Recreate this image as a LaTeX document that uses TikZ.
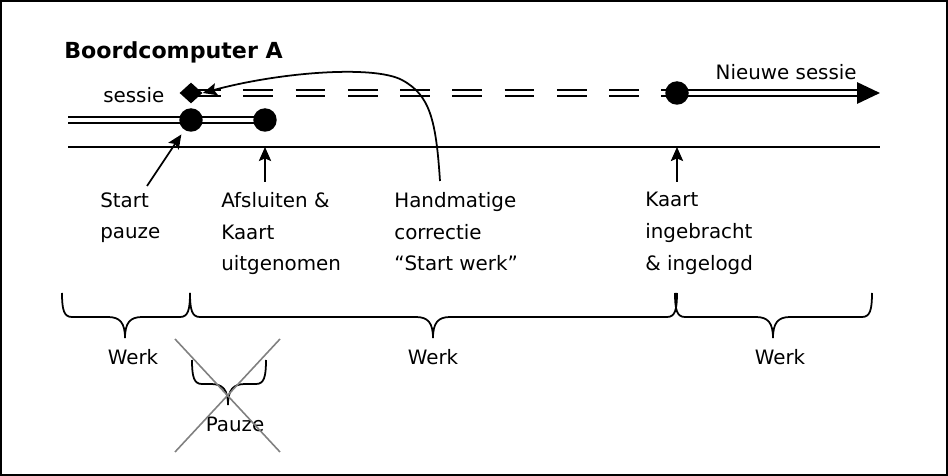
\documentclass[tikz,border=0pt]{standalone}
\usepackage{fontspec}
\setmainfont{DejaVu Sans}
\usetikzlibrary{arrows.meta,shapes.geometric,backgrounds}

\newcommand{\accolade}[4]{%
  \draw[klamp] (#1,#4) .. controls (#1,#4+17) and (#1+2,#4+24) .. (#1+10,#4+24)
    -- (#2-17,#4+24) .. controls (#2-5,#4+24) and (#2,#4+30) .. (#2,#4+45)
    .. controls (#2,#4+30) and (#2+5,#4+24) .. (#2+17,#4+24)
    -- (#3-10,#4+24) .. controls (#3-2,#4+24) and (#3,#4+17) .. (#3,#4);}

\begin{document}
\begin{tikzpicture}[
  x=0.02cm, y=-0.02cm,
  font=\fontsize{11.3}{18}\selectfont,
  >={Stealth[length=8pt, width=7pt, inset=1.5pt]},
  dot/.style={circle, fill, inner sep=0pt, minimum size=0.47cm},
  ruit/.style={diamond, fill, inner sep=0pt, minimum width=0.46cm, minimum height=0.42cm},
  lbl/.style={anchor=north west, inner sep=0pt, align=left},
  sessie/.style={double, line width=1.35pt, double distance=1.9pt},
  pijl/.style={->, line width=1pt},
  klamp/.style={line width=1pt},
  kruis/.style={draw=gray, line width=0.9pt}
]
  \useasboundingbox (0,0) rectangle (948,476);
  \draw[line width=1pt] (1,1) rectangle (947,475);

  \node[anchor=base west, inner sep=0pt, font=\fontsize{12.6}{14}\selectfont\bfseries] (titel) at (64,59) {Boordcomputer A};
  \node[anchor=base west, inner sep=0pt] (sessielbl) at (103,103) {sessie};
  \node[anchor=base east, inner sep=0pt] (nieuwlbl) at (857,80) {Nieuwe sessie};

  \coordinate (sstart) at (68,120);
  \coordinate (send) at (880,93);
  \coordinate (as) at (68,147);
  \coordinate (ae) at (880,147);

  \node[dot] (pauze) at (191,120) {};
  \node[dot] (afsl) at (265,120) {};
  \node[ruit] (corr) at (191,93) {};
  \node[dot] (nieuw) at (677,93) {};

  \begin{scope}[on background layer]
    \draw[sessie] (sstart) -- (pauze.center) -- (afsl.center);
    \draw[sessie, dash pattern=on 17pt off 12.75pt] (corr.center) -- (nieuw.center);
    \draw[sessie, -{Triangle[length=13pt, width=12pt]}] (nieuw.center) -- (send);
    \draw[line width=1.1pt] (as) -- (ae);
  \end{scope}

  \node[lbl] (startlbl) at (100,192) {Start\\pauze};
  \node[lbl] (afsllbl) at (221,192) {Afsluiten \&\\Kaart\\uitgenomen};
  \node[lbl] (corrlbl) at (394,192) {Handmatige\\correctie\\“Start werk”};
  \node[lbl] (kaartlbl) at (645,192) {Kaart\\ingebracht\\\& ingelogd};

  \coordinate (startvoet) at (147,186);
  \coordinate (afslvoet) at (265,182);
  \coordinate (kaartvoet) at (677,182);
  \coordinate (corrvoet) at (440,181);
  \coordinate (corrbocht) at (402,80);

  \draw[pijl, shorten >=3pt] (startvoet) -- (pauze);
  \draw[pijl] (afslvoet) -- (afslvoet |- ae);
  \draw[pijl] (kaartvoet) -- (kaartvoet |- ae);
  \draw[pijl] (corrvoet) .. controls (436,120) and (430,95) .. (corrbocht)
    .. controls (374,65) and (280,72) .. (corr.east);

  \accolade{62}{125}{190}{293}
  \accolade{190}{433}{677}{293}
  \accolade{675}{773}{872}{293}
  \node[anchor=base, inner sep=0pt] (werk1) at (133,365) {Werk};
  \node[anchor=base, inner sep=0pt] (werk2) at (433,365) {Werk};
  \node[anchor=base, inner sep=0pt] (werk3) at (780,365) {Werk};

  \accolade{192}{228}{266}{360}
  \node[anchor=base, inner sep=0pt] (pauzelbl) at (235,432) {Pauze};
  \draw[kruis] (175,339) -- (280,452);
  \draw[kruis] (280,339) -- (175,452);
\end{tikzpicture}
\end{document}
